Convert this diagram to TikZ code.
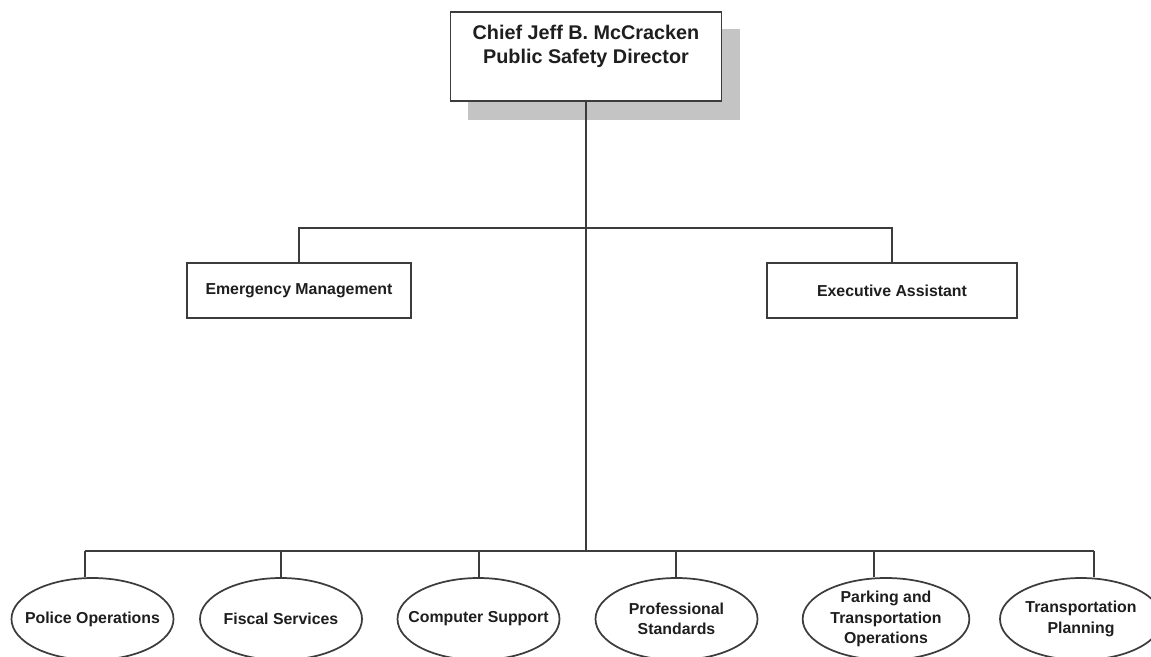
\documentclass[tikz,border=0pt]{standalone}
\usepackage{fontspec}
\setmainfont{Liberation Sans}
\usetikzlibrary{shapes.geometric,backgrounds}
\definecolor{linecol}{RGB}{60,60,60}
\definecolor{shadowcol}{RGB}{196,196,196}
\definecolor{textcol}{RGB}{30,30,30}
\tikzset{
  conn/.style={draw=linecol, line width=1.3pt},
  boxnode/.style={draw=linecol, line width=1.3pt, fill=white, rectangle, align=center,
    text=textcol, font=\bfseries\fontsize{11.9pt}{15.4pt}\selectfont, inner sep=0pt},
  ovalnode/.style={draw=linecol, line width=1.3pt, fill=white, ellipse, align=center,
    text=textcol, font=\bfseries\fontsize{11.9pt}{15.4pt}\selectfont,
    inner xsep=-18pt, inner ysep=-3pt, minimum width=121.5pt, minimum height=61.5pt},
}
\begin{document}
\begin{tikzpicture}[x=0.75pt, y=-0.75pt]
\useasboundingbox (0,0) rectangle (1151,656);

% top box
\node[boxnode, minimum width=203.25pt, minimum height=66.75pt,
      font=\bfseries\fontsize{14.85pt}{18pt}\selectfont] (top) at (586,56.5)
  {Chief Jeff B. McCracken\\Public Safety Director\\\mbox{}};
\begin{scope}[on background layer]
  \fill[shadowcol] ([shift={(18,18)}]top.south west) rectangle ([shift={(18,18)}]top.north east);
\end{scope}

% staff boxes
\node[boxnode, minimum width=168pt, minimum height=41.25pt] (em) at (299,290.5) {Emergency Management};
\node[boxnode, minimum width=187.5pt, minimum height=41.25pt] (ea) at (892,290.5) {Executive Assistant};

% divisions
\node[ovalnode] (po) at (92.5,619) {Police Operations};
\node[ovalnode] (fs) at (281,619) {Fiscal Services};
\node[ovalnode] (cs) at (478.5,619) {Computer Support};
\node[ovalnode] (ps) at (676.5,619) {Professional\\Standards};
\node[ovalnode, minimum width=125pt] (pt) at (886,619) {Parking and\\Transportation\\Operations};
\node[ovalnode] (tp) at (1081,619) {Transportation\\Planning};

% bus coordinates
\coordinate (midbus) at (586,228);
\coordinate (botbus) at (586,551);
\coordinate (t1) at (85,551);
\coordinate (t2) at (281,551);
\coordinate (t3) at (479,551);
\coordinate (t4) at (676,551);
\coordinate (t5) at (874,551);
\coordinate (t6) at (1094,551);

% connectors
\draw[conn] (top.south) -- (botbus);
\draw[conn] (em.north) |- (midbus) -| (ea.north);
\draw[conn] (t1) -- (t6);
\draw[conn] (t1) -- (t1 |- po.north);
\draw[conn] (t2) -- (t2 |- fs.north);
\draw[conn] (t3) -- (t3 |- cs.north);
\draw[conn] (t4) -- (t4 |- ps.north);
\draw[conn] (t5) -- (t5 |- pt.north);
\draw[conn] (t6) -- (t6 |- tp.north);
\end{tikzpicture}
\end{document}
